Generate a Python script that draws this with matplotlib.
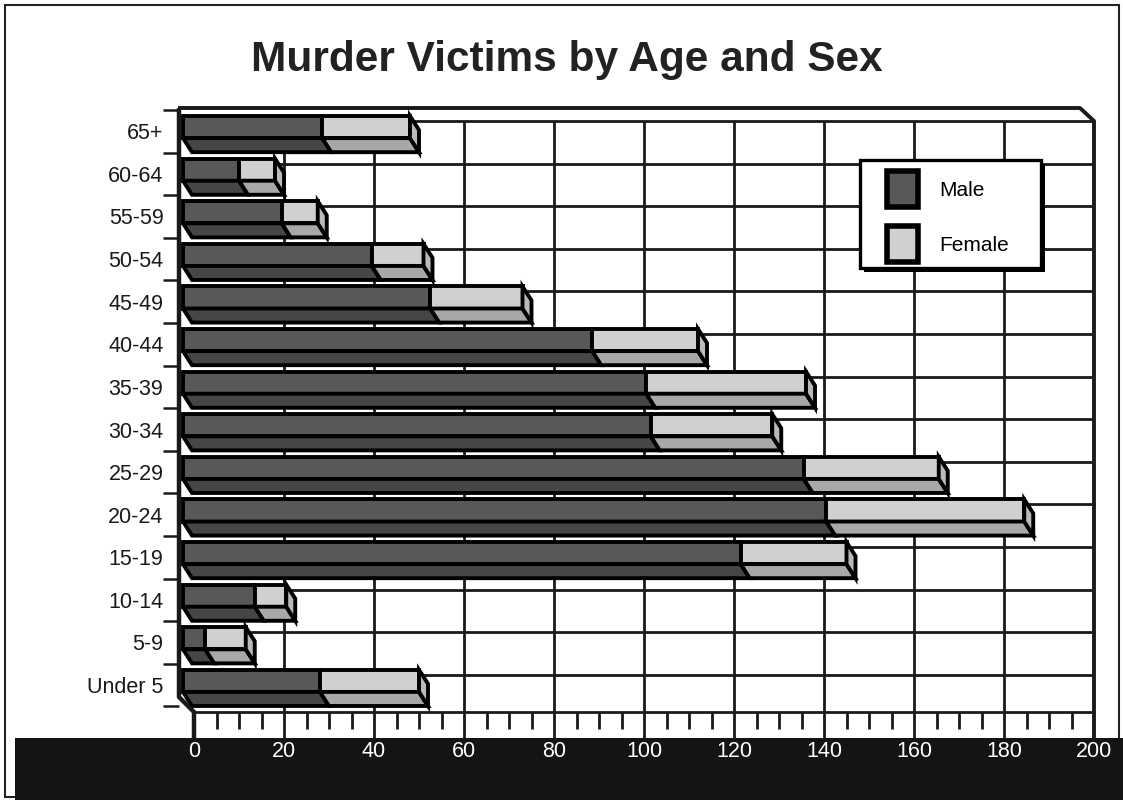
import matplotlib
matplotlib.use("Agg")
import matplotlib.pyplot as plt
from matplotlib.patches import Rectangle, Polygon, Patch

plt.rcParams['font.family'] = ['Liberation Sans', 'DejaVu Sans']

# ---- data ----
age_groups = ['Under 5', '5-9', '10-14', '15-19', '20-24', '25-29', '30-34',
              '35-39', '40-44', '45-49', '50-54', '55-59', '60-64', '65+']
male = [28, 2.5, 13.5, 121.5, 140.5, 135.5, 101.5, 100.5, 88.5, 52.5, 39.5, 19.5, 10, 28.5]
female = [22, 9, 7, 23.5, 44, 30, 27, 35.5, 23.5, 20.5, 11.5, 8, 8, 19.5]
x_ticks = [0, 20, 40, 60, 80, 100, 120, 140, 160, 180, 200]
title = 'Murder Victims by Age and Sex'
legend_labels = ['Male', 'Female']

# ---- style ----
W, H = 1123, 800
male_front = '#585858'
male_bottom = '#464646'
fem_front = '#d0d0d0'
fem_bottom = '#a8a8a8'
fem_side = '#bababa'
edge_lw = 2.8

fig = plt.figure(figsize=(W / 100, H / 100), dpi=100)
fig.patch.set_facecolor('white')

# plot axes: x 0..200 -> px 194..1094, category boundaries px 110..706.4
ax = fig.add_axes([194 / W, 1 - 706.4 / H, 900 / W, 596.4 / H])
n = len(age_groups)
ax.set_xlim(0, 200)
ax.set_ylim(n - 0.5, -0.5)
ax.patch.set_visible(False)
for s in ax.spines.values():
    s.set_visible(False)

ux = 4.5      # px per x unit
uy = 42.6     # px per category

def yv(py):
    return (py - 110) / uy - 0.5

def xv(px):
    return (px - 194) / ux

def fig_rect(x, y, w, h, **kw):
    # pixel box (top-left origin) to figure fraction rectangle
    return Rectangle((x / W, 1 - (y + h) / H), w / W, h / H, transform=fig.transFigure, **kw)

# black band and outer frame
fig.add_artist(fig_rect(15, 738, W - 15, 62, facecolor='#141414', edgecolor='none', zorder=-2))
fig.add_artist(fig_rect(5, 5, 1114, 792, fill=False, edgecolor='#222222', lw=1.5, zorder=-3))

line_kw = dict(color='#1a1a1a', clip_on=False, solid_capstyle='butt')

y_wall_top = yv(121)
y_ledge = yv(108)
y_floor = yv(712)
y_band = yv(739)
y_minor = yv(729)

# top ledge and right wall
ax.plot([xv(178), xv(1080), 200, 200], [y_ledge, y_ledge, y_wall_top, y_band], lw=2.8, zorder=2, **line_kw)
ax.plot([xv(183), 200], [y_wall_top, y_wall_top], lw=2.0, zorder=2, **line_kw)
# left wall
ax.plot([xv(179), xv(179), 0, 0], [y_ledge, yv(697), y_floor, y_band], lw=3.2, zorder=5, **line_kw)
# vertical grid lines
for t in x_ticks[1:-1]:
    ax.plot([t, t], [y_wall_top, y_band], lw=2.0, zorder=1, **line_kw)
# horizontal back-wall grid lines (just below each category boundary)
for k in range(1, n):
    yy = -0.5 + k + 0.26
    ax.plot([xv(186), 200], [yy, yy], lw=2.0, zorder=1, **line_kw)
# floor line and minor ticks
ax.plot([0, 200], [y_floor, y_floor], lw=2.0, zorder=1, **line_kw)
for t in range(5, 200, 5):
    if t % 20:
        ax.plot([t, t], [y_floor, y_minor], lw=2.0, zorder=1, **line_kw)
# left ticks at category boundaries
for k in range(n + 1):
    yy = -0.5 + k
    ax.plot([xv(163), xv(179)], [yy, yy], lw=1.8, zorder=1, **line_kw)

# ---- bars ----
x0 = xv(183)
dx = 9 / ux
for i, (m, f) in enumerate(zip(male, female)):
    c = n - 1 - i          # 65+ at top
    top, mid, bot = c - 0.36, c + 0.16, c + 0.49
    t = m + f
    pk = dict(edgecolor='black', lw=edge_lw, joinstyle='miter', clip_on=False, zorder=3)
    ax.add_patch(Rectangle((x0, top), m - x0, mid - top, facecolor=male_front, **pk))
    ax.add_patch(Rectangle((m, top), f, mid - top, facecolor=fem_front, **pk))
    ax.add_patch(Polygon([(x0, mid), (m, mid), (m + dx, bot), (x0 + dx, bot)], closed=True,
                         facecolor=male_bottom, **pk))
    ax.add_patch(Polygon([(m, mid), (t, mid), (t + dx, bot), (m + dx, bot)], closed=True,
                         facecolor=fem_bottom, **pk))
    ax.add_patch(Polygon([(t, top), (t + dx, top + (bot - mid)), (t + dx, bot), (t, mid)], closed=True,
                         facecolor=fem_side, **pk))

# ---- ticks / labels ----
ax.set_yticks([n - 1 - i for i in range(n)], age_groups)
ax.tick_params(axis='y', length=0, pad=22, labelsize=15.5, labelcolor='#1a1a1a')
ax.set_xticks(x_ticks, [str(v) for v in x_ticks])
ax.tick_params(axis='x', length=0, pad=25, labelsize=15.5, labelcolor='white')

# ---- legend (box drawn separately with a solid drop shadow) ----
fig.add_artist(fig_rect(864, 164, 181, 108, facecolor='black', edgecolor='none', zorder=8))
fig.add_artist(fig_rect(860, 160, 181, 108, facecolor='white', edgecolor='black', lw=2.4, zorder=9))
handles = [Patch(facecolor=male_front, edgecolor='black', lw=4),
           Patch(facecolor=fem_front, edgecolor='black', lw=4)]
leg = fig.legend(handles, legend_labels, loc='upper left',
                 bbox_to_anchor=(887 / W, 1 - 171 / H), bbox_transform=fig.transFigure,
                 borderaxespad=0, borderpad=0, fontsize=15, handlelength=1.5, handleheight=2.3,
                 labelspacing=0.9, handletextpad=1.0, frameon=False)
leg.set_zorder(10)

fig.text(567 / W, 1 - 60 / H, title, ha='center', va='center', fontsize=30.5,
         weight='bold', color='#222222')

fig.savefig('out.png', dpi=100)
